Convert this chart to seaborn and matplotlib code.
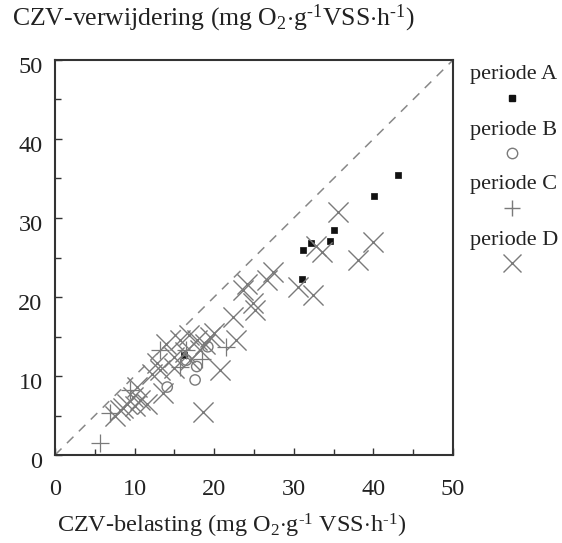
import numpy as np
import pandas as pd
import matplotlib
matplotlib.use("Agg")
import matplotlib.pyplot as plt
import matplotlib.transforms as mtransforms
import seaborn as sns
from matplotlib.lines import Line2D

# ---- data ----
a_x = [43.1, 40.1, 35.0, 34.6, 32.1, 31.1, 31.0, 16.2]
a_y = [35.4, 32.8, 28.5, 27.1, 26.8, 25.9, 22.3, 12.7]

b_x = [17.6, 17.8, 14.1, 19.2, 16.5]
b_y = [9.5, 11.2, 8.6, 13.7, 12.0]

c_x = [5.6, 6.9, 9.4, 13.2, 15.7, 16.5, 21.5, 18.5]
c_y = [1.5, 5.3, 8.2, 13.3, 11.2, 13.3, 13.7, 12.2]

d_x = [35.6, 40.0, 38.1, 32.8, 33.6, 30.5, 32.4, 27.4, 26.6, 24.1, 23.6, 24.9,
       25.1, 22.4, 22.8, 20.7, 18.6, 13.6, 14.0, 13.2, 15.7, 17.8, 19.5, 17.0,
       14.9, 18.2, 12.8, 10.3, 10.7, 9.0, 8.2, 7.5, 11.5, 9.8, 16.3, 20.0,
       15.0, 18.8, 16.8, 12.2, 8.6, 10.0]
d_y = [30.7, 26.9, 24.7, 26.4, 25.7, 21.3, 20.2, 23.2, 22.2, 21.7, 20.9, 19.2,
       18.4, 17.5, 14.6, 10.8, 5.5, 7.8, 14.1, 10.8, 14.6, 14.6, 15.0, 12.0,
       12.4, 13.3, 11.6, 8.6, 7.0, 6.5, 5.7, 4.9, 6.5, 7.4, 13.0, 15.5,
       11.0, 14.0, 15.2, 10.3, 6.0, 6.2]

periods = ["periode A", "periode B", "periode C", "periode D"]

df = pd.concat([
    pd.DataFrame({"x": a_x, "y": a_y, "periode": periods[0]}),
    pd.DataFrame({"x": b_x, "y": b_y, "periode": periods[1]}),
    pd.DataFrame({"x": c_x, "y": c_y, "periode": periods[2]}),
    pd.DataFrame({"x": d_x, "y": d_y, "periode": periods[3]}),
], ignore_index=True)

sns.set_style("ticks")
plt.rcParams["font.family"] = ["Liberation Serif", "DejaVu Serif"]
plt.rcParams["mathtext.fontset"] = "custom"
plt.rcParams["mathtext.rm"] = "Liberation Serif"
plt.rcParams["mathtext.it"] = "Liberation Serif:italic"

fig = plt.figure(figsize=(5.62, 5.43), dpi=100)
ax = fig.add_axes([55/562, 1 - 455/543, 398/562, 395/543])

grey = "#7a7a7a"
style = {
    "periode A": dict(marker="s", s=16, color="#111111", facecolors="#111111", linewidths=0.5),
    "periode B": dict(marker="o", s=55, color=grey, facecolors="none", linewidths=1.0),
    "periode C": dict(marker="+", s=150, color=grey, linewidths=0.9),
    "periode D": dict(marker="x", s=210, color=grey, linewidths=1.0),
}
for p in periods:
    sub = df[df["periode"] == p]
    st = style[p]
    kw = dict(marker=st["marker"], s=st["s"], linewidths=st["linewidths"])
    if st["marker"] in ("s", "o"):
        kw["edgecolor"] = st["color"]
        kw["facecolor"] = st["facecolors"]
    else:
        kw["color"] = st["color"]
    sns.scatterplot(data=sub, x="x", y="y", ax=ax, legend=False, zorder=3, **kw)

ax.plot([0, 50], [0, 50], linestyle=(0, (6, 5)), color="#888888", lw=1.1, zorder=2)

ax.set_xlim(0, 50)
ax.set_ylim(0, 50)
ax.set_xticks([0, 10, 20, 30, 40, 50])
ax.set_yticks([0, 10, 20, 30, 40, 50])
ax.set_xticks(np.arange(5, 50, 10), minor=True)
ax.set_yticks(np.arange(5, 50, 10), minor=True)
ax.tick_params(which="both", direction="in", colors="#333333", labelcolor="#222222",
               labelsize=17.5, width=1.0)
ax.tick_params(which="major", length=5)
ax.tick_params(which="minor", length=4)
ax.tick_params(axis="x", pad=17)
ax.tick_params(axis="y", pad=9)
for sp in ax.spines.values():
    sp.set_color("#333333")
    sp.set_linewidth(1.5)
ax.set_xlabel("")
ax.set_ylabel("")

# y tick labels sit a little below their ticks in the reference
offset = mtransforms.ScaledTranslation(0, -5/100, fig.dpi_scale_trans)
for lab in ax.get_yticklabels():
    lab.set_transform(lab.get_transform() + offset)

fig.text(12/562, 1 - 18/543,
         r"CZV-verwijdering (mg O$_{2}$$\cdot$g$^{\text{-1}}$VSS$\cdot$h$^{\text{-1}}$)",
         fontsize=18.5, color="#222222", ha="left", va="center")
fig.text(232/562, 1 - 526/543,
         r"CZV-belasting (mg O$_{2}$$\cdot$g$^{\text{-1}}$ VSS$\cdot$h$^{\text{-1}}$)",
         fontsize=17.5, color="#222222", ha="center", va="center")

# legend at right
text_y = [75, 130, 185, 240]
mark_y = [98, 153, 208, 263]
for p, ty, my in zip(periods, text_y, mark_y):
    fig.text(514/562, 1 - ty/543, p, fontsize=16, color="#222222",
             ha="center", va="center")
    st = style[p]
    mfc = st["facecolors"] if st["marker"] in ("s", "o") else st["color"]
    ms = {"s": 4, "o": 7.5, "+": 12, "x": 13}[st["marker"]]
    fig.add_artist(Line2D([512/562], [1 - my/543], marker=st["marker"], linestyle="none",
                          markersize=ms, color=st["color"], markerfacecolor=mfc,
                          markeredgewidth=1.0, transform=fig.transFigure))

fig.savefig("out.png", dpi=100, facecolor="white")
